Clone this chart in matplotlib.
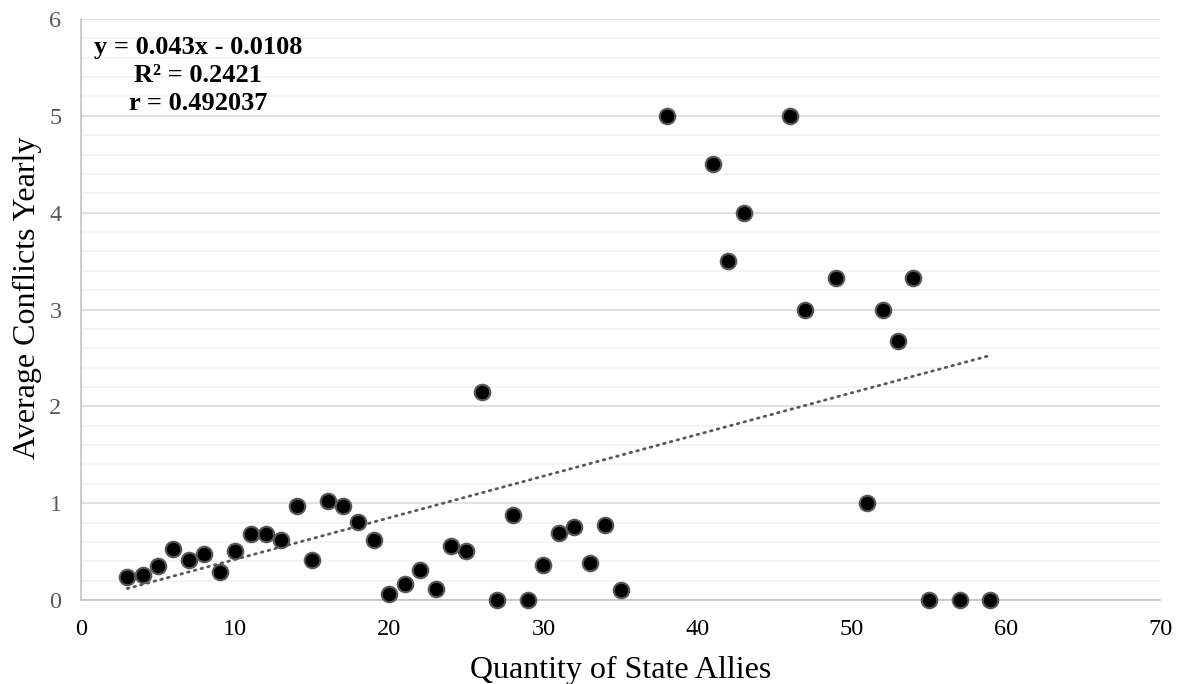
import numpy as np
import matplotlib
matplotlib.use('Agg')
import matplotlib.pyplot as plt
from matplotlib.ticker import MultipleLocator

# Data
allies = [3, 4, 5, 6, 7, 8, 9, 10, 11, 12, 13, 14, 15, 16, 17, 18, 19, 20,
          21, 22, 23, 24, 25, 26, 27, 28, 29, 30, 31, 32, 33, 34, 35,
          38, 41, 42, 43, 46, 47, 49, 51, 52, 53, 54, 55, 57, 59]
conflicts = [0.24, 0.26, 0.35, 0.53, 0.41, 0.475, 0.29, 0.51, 0.685, 0.68,
             0.62, 0.975, 0.41, 1.025, 0.97, 0.81, 0.62, 0.065, 0.165, 0.31,
             0.11, 0.56, 0.51, 2.15, 0.0, 0.88, 0.0, 0.36, 0.69, 0.75, 0.385,
             0.77, 0.10,
             5.0, 4.5, 3.5, 4.0, 5.0, 3.0, 3.33, 1.0, 3.0, 2.67, 3.33,
             0.0, 0.0, 0.0]
slope = 0.043
intercept = -0.0108
r_squared = 0.2421
r_value = 0.492037

W, H = 1177, 684
plt.rcParams['font.family'] = ['Liberation Serif', 'DejaVu Serif']

fig = plt.figure(figsize=(W / 100, H / 100), dpi=100)
ax = fig.add_axes([81 / W, (H - 600) / H, (1160 - 81) / W, (600 - 19) / H])

ax.set_xlim(0, 70)
ax.set_ylim(0, 6)
ax.xaxis.set_major_locator(MultipleLocator(10))
ax.yaxis.set_major_locator(MultipleLocator(1))
ax.yaxis.set_minor_locator(MultipleLocator(0.2))

ax.grid(axis='y', which='major', color='#d9d9d9', linewidth=1.1, zorder=0)
ax.grid(axis='y', which='minor', color='#f2f2f2', linewidth=1.1, zorder=0)
ax.set_axisbelow(True)

for side in ('top', 'right'):
    ax.spines[side].set_visible(False)
ax.spines['left'].set_color('#bfbfbf')
ax.spines['bottom'].set_color('#bfbfbf')
ax.spines['left'].set_linewidth(1.1)
ax.spines['bottom'].set_linewidth(1.1)

ax.tick_params(axis='both', which='both', length=0)
ax.tick_params(axis='x', labelsize=17.5, labelcolor='black', pad=14)
ax.tick_params(axis='y', labelsize=17.5, labelcolor='#595959', pad=14)

# trend line
xs = np.array([min(allies), max(allies)])
ax.plot(xs, slope * xs + intercept, color='#595959', linewidth=2.0,
        linestyle=(0, (0.6, 1.9)), dash_capstyle='round', zorder=2)

ax.scatter(allies, conflicts, s=125, c='black', edgecolors='#595959',
           linewidths=1.5, zorder=3, clip_on=False)

ax.text(198 / W, 1 - 36 / H,
        f"y = {slope}x - {abs(intercept)}\nR² = {r_squared}\nr = {r_value}",
        transform=fig.transFigure, ha='center', va='top', fontsize=19,
        fontweight='bold', linespacing=1.27)

ax.set_xlabel('Quantity of State Allies', fontsize=23, labelpad=11)
ax.set_ylabel('Average Conflicts Yearly', fontsize=23)
ax.yaxis.set_label_coords(-0.036, 0.52)

fig.savefig('out.png', dpi=100)
